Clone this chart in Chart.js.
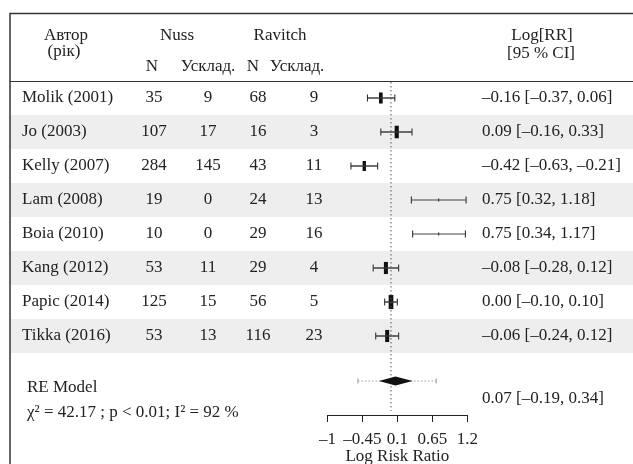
<!DOCTYPE html>
<html>
<head>
<meta charset="utf-8">
<script src="https://cdn.jsdelivr.net/npm/chart.js@4.4.1/dist/chart.umd.min.js"></script>
<style>
  html, body { margin: 0; padding: 0; background: #fff; }
  #wrap { width: 633px; height: 464px; }
</style>
</head>
<body>
<div id="wrap"><canvas id="forest" width="633" height="464"></canvas></div>
<script>
// study data
const studies = ['Molik (2001)', 'Jo (2003)', 'Kelly (2007)', 'Lam (2008)', 'Boia (2010)', 'Kang (2012)', 'Papic (2014)', 'Tikka (2016)'];
const nussN = [35, 107, 284, 19, 10, 53, 125, 53];
const nussEvents = [9, 17, 145, 0, 0, 11, 15, 13];
const ravitchN = [68, 16, 43, 24, 29, 29, 56, 116];
const ravitchEvents = [9, 3, 11, 13, 16, 4, 5, 23];
const logRR = [-0.16, 0.09, -0.42, 0.75, 0.75, -0.08, 0.00, -0.06];
const ciLow = [-0.37, -0.16, -0.63, 0.32, 0.34, -0.28, -0.10, -0.24];
const ciHigh = [0.06, 0.33, -0.21, 1.18, 1.17, 0.12, 0.10, 0.12];
const weights = [14.2, 16.1, 12.9, 3.9, 3.9, 15.5, 18.1, 15.5];

// random effects summary
const reEst = 0.07, reLow = -0.19, reHigh = 0.34;
const piLow = -0.52, piHigh = 0.71;
const reStats = 'χ² = 42.17 ; p < 0.01; I² = 92 %';

const tickValues = [-1, -0.45, 0.1, 0.65, 1.2];

// layout (pixels -> scale units)
const PX_X0 = 391, PX_PER_X = 63.6;
const PX_Y0 = 98, PX_PER_ROW = 34;
const W = 633, H = 464;
const SUMMARY_ROW = (381 - PX_Y0) / PX_PER_ROW;
const AXIS_ROW = (415 - PX_Y0) / PX_PER_ROW;

const FONT = '17px "Liberation Serif", "Times New Roman", serif';
const TXT = '#222';

const fmt = v => (v < 0 ? '–' : '') + Math.abs(v).toFixed(2);

// datasets
const ciSets = studies.map((s, i) => ({
  type: 'line',
  data: [{ x: ciLow[i], y: i }, { x: ciHigh[i], y: i }],
  borderColor: (i === 3 || i === 4) ? '#444' : '#333',
  borderWidth: (i === 3 || i === 4) ? 1.1 : 1.4,
  pointRadius: 0
}));

const capPoints = [];
studies.forEach((s, i) => {
  capPoints.push({ x: ciLow[i], y: i });
  capPoints.push({ x: ciHigh[i], y: i });
});

const boxHeights = weights.map(w => w * 0.78);

const datasets = [
  {
    // reference line at 0
    type: 'line',
    data: [{ x: 0, y: (82 - PX_Y0) / PX_PER_ROW }, { x: 0, y: (411 - PX_Y0) / PX_PER_ROW }],
    borderColor: '#555',
    borderWidth: 1,
    borderDash: [1.5, 2.5],
    pointRadius: 0
  },
  ...ciSets,
  {
    type: 'scatter',
    data: capPoints,
    pointStyle: 'line',
    rotation: 90,
    pointRadius: 3.5,
    pointBorderWidth: 1.1,
    borderColor: '#333',
    backgroundColor: '#333'
  },
  {
    type: 'scatter',
    data: logRR.map((v, i) => ({ x: v, y: i })),
    pointStyle: 'line',
    rotation: 90,
    pointRadius: boxHeights.map(h => h / 2),
    pointBorderWidth: boxHeights.map(h => Math.max(1, h / 3)),
    borderColor: '#111',
    backgroundColor: '#111'
  },
  {
    // prediction interval
    type: 'line',
    data: [{ x: piLow, y: SUMMARY_ROW }, { x: piHigh, y: SUMMARY_ROW }],
    borderColor: '#999',
    borderWidth: 1,
    borderDash: [1.5, 2],
    pointRadius: 0
  },
  {
    type: 'scatter',
    data: [{ x: piLow, y: SUMMARY_ROW }, { x: piHigh, y: SUMMARY_ROW }],
    pointStyle: 'line',
    rotation: 90,
    pointRadius: 2.5,
    pointBorderWidth: 1,
    borderColor: '#999'
  }
];

const tablePlugin = {
  id: 'table',
  beforeDatasetsDraw(chart) {
    const { ctx } = chart;
    const ys = chart.scales.y;
    ctx.save();
    ctx.fillStyle = '#eeeeee';
    for (let i = 1; i < studies.length; i += 2) {
      const top = ys.getPixelForValue(i - 0.5);
      const bot = ys.getPixelForValue(i + 0.5);
      ctx.fillRect(10, top, W - 10, bot - top);
    }
    ctx.strokeStyle = '#333';
    ctx.lineWidth = 1.5;
    ctx.beginPath();
    ctx.moveTo(10, H);
    ctx.lineTo(10, 13.5);
    ctx.lineTo(W, 13.5);
    ctx.stroke();
    ctx.lineWidth = 1.2;
    ctx.beginPath();
    ctx.moveTo(10, 81.5);
    ctx.lineTo(W, 81.5);
    ctx.stroke();
    ctx.restore();
  },
  afterDatasetsDraw(chart) {
    const { ctx } = chart;
    const xs = chart.scales.x, ys = chart.scales.y;
    ctx.save();
    ctx.font = FONT;
    ctx.fillStyle = TXT;
    ctx.textBaseline = 'middle';

    // header
    ctx.textAlign = 'center';
    ctx.fillText('Автор', 66, 36);
    ctx.fillText('(рік)', 64, 52);
    ctx.fillText('Nuss', 177, 36);
    ctx.fillText('Ravitch', 280, 36);
    ctx.fillText('N', 152, 67);
    ctx.fillText('Усклад.', 208, 67);
    ctx.fillText('N', 253, 67);
    ctx.fillText('Усклад.', 297, 67);
    ctx.fillText('Log[RR]', 542, 36);
    ctx.fillText('[95 % CI]', 541, 54);

    // rows
    studies.forEach((s, i) => {
      const y = ys.getPixelForValue(i);
      ctx.textAlign = 'left';
      ctx.fillText(s, 22, y);
      ctx.fillText(fmt(logRR[i]) + ' [' + fmt(ciLow[i]) + ', ' + fmt(ciHigh[i]) + ']', 482, y);
      ctx.textAlign = 'center';
      ctx.fillText(nussN[i], 154, y);
      ctx.fillText(nussEvents[i], 208, y);
      ctx.fillText(ravitchN[i], 258, y);
      ctx.fillText(ravitchEvents[i], 314, y);
    });

    // summary diamond
    const dy = ys.getPixelForValue(SUMMARY_ROW);
    ctx.fillStyle = '#111';
    ctx.beginPath();
    ctx.moveTo(xs.getPixelForValue(reLow), dy);
    ctx.lineTo(xs.getPixelForValue(reEst), dy - 4.5);
    ctx.lineTo(xs.getPixelForValue(reHigh), dy);
    ctx.lineTo(xs.getPixelForValue(reEst), dy + 4.5);
    ctx.closePath();
    ctx.fill();

    ctx.fillStyle = TXT;
    ctx.textAlign = 'left';
    ctx.fillText('RE Model', 27, 388);
    ctx.fillText(reStats, 27, 413);
    ctx.fillText(fmt(reEst) + ' [' + fmt(reLow) + ', ' + fmt(reHigh) + ']', 482, 399);

    // x axis
    const ay = ys.getPixelForValue(AXIS_ROW);
    const x0 = xs.getPixelForValue(tickValues[0]);
    const x1 = xs.getPixelForValue(tickValues[tickValues.length - 1]);
    ctx.strokeStyle = '#222';
    ctx.lineWidth = 1;
    ctx.beginPath();
    ctx.moveTo(x0, ay + 0.5);
    ctx.lineTo(x1, ay + 0.5);
    tickValues.forEach(t => {
      const tx = Math.round(xs.getPixelForValue(t)) + 0.5;
      ctx.moveTo(tx, ay);
      ctx.lineTo(tx, ay + 7);
    });
    ctx.stroke();
    ctx.textAlign = 'center';
    tickValues.forEach(t => {
      const lbl = (t < 0 ? '–' : '') + String(Math.abs(t));
      ctx.fillText(lbl, xs.getPixelForValue(t), ay + 25);
    });
    ctx.fillText('Log Risk Ratio', xs.getPixelForValue(0.1), ay + 42);
    ctx.restore();
  }
};

new Chart(document.getElementById('forest'), {
  type: 'scatter',
  data: { datasets },
  options: {
    responsive: false,
    animation: false,
    layout: { padding: 0, autoPadding: false },
    plugins: { legend: { display: false }, tooltip: { enabled: false } },
    scales: {
      x: {
        type: 'linear',
        display: false,
        min: -PX_X0 / PX_PER_X,
        max: (W - PX_X0) / PX_PER_X
      },
      y: {
        type: 'linear',
        display: false,
        reverse: true,
        min: -PX_Y0 / PX_PER_ROW,
        max: (H - PX_Y0) / PX_PER_ROW
      }
    }
  },
  plugins: [tablePlugin]
});
</script>
</body>
</html>
